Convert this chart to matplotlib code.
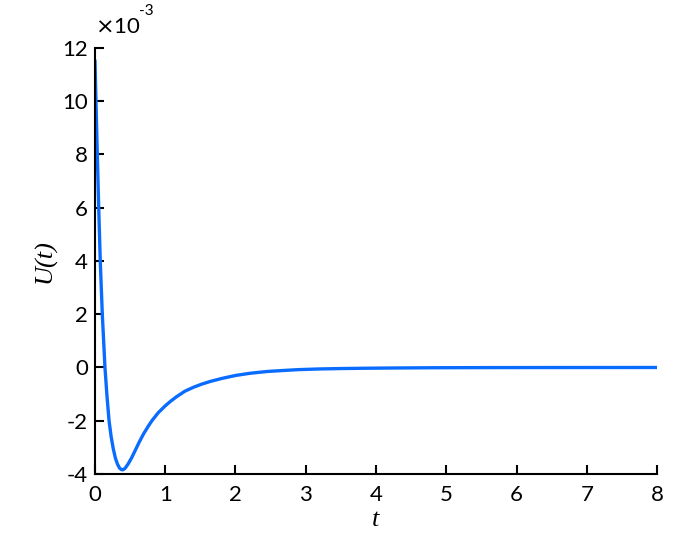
import matplotlib
matplotlib.use('Agg')
import matplotlib.pyplot as plt

# values (U in units of 1e-3)
t = [0, 0.014, 0.033, 0.053, 0.075, 0.104, 0.142, 0.17, 0.20, 0.23, 0.26, 0.29,
     0.32, 0.35, 0.38, 0.40, 0.43, 0.47, 0.52, 0.57, 0.63, 0.69, 0.75, 0.81,
     0.90, 1.0, 1.08, 1.16, 1.28, 1.40, 1.52, 1.64, 1.8, 2.0, 2.2, 2.45, 2.7,
     2.9, 3.2, 3.5, 3.8, 4.2, 4.8, 5.5, 6.5, 8.0]
U = [11.5, 10.0, 8.0, 6.0, 4.0, 2.0, 0.0, -1.05, -2.0, -2.6, -3.05, -3.4,
     -3.63, -3.78, -3.84, -3.84, -3.78, -3.63, -3.4, -3.13, -2.8, -2.5, -2.24,
     -2.0, -1.7, -1.44, -1.26, -1.1, -0.89, -0.745, -0.625, -0.525, -0.415,
     -0.30, -0.22, -0.15, -0.11, -0.08, -0.055, -0.04, -0.03, -0.02, -0.01,
     -0.005, -0.002, 0.0]
xticks = [0, 1, 2, 3, 4, 5, 6, 7, 8]
yticks = [-4, -2, 0, 2, 4, 6, 8, 10, 12]

plt.rcParams['font.family'] = ['Lato', 'DejaVu Sans']
plt.rcParams['axes.unicode_minus'] = False

fig = plt.figure(figsize=(7, 5.45), dpi=100)
ax = fig.add_axes([0.1357, 0.1303, 0.8029, 0.7817])

ax.plot(t, U, color='#0a6cff', lw=2.4, solid_joinstyle='round')

ax.set_xlim(0, 8)
ax.set_ylim(-4, 12)
ax.set_xticks(xticks)
ax.set_yticks(yticks)
ax.tick_params(direction='in', length=6.5, width=1.5, labelsize=16)
ax.tick_params(axis='x', pad=8)
ax.tick_params(axis='y', pad=5)
for s in ['top', 'right']:
    ax.spines[s].set_visible(False)
for s in ['left', 'bottom']:
    ax.spines[s].set_linewidth(1.5)

ax.set_xlabel('t', family='Liberation Serif', style='italic', fontsize=19, labelpad=3)
ax.set_ylabel('U(t)', family='Liberation Serif', style='italic', fontsize=19, labelpad=4)

# exponent label
ax.text(0.0, 1.025, r'$\times$10', transform=ax.transAxes, fontsize=16, ha='left', va='bottom')
ax.text(0.078, 1.07, '-3', transform=ax.transAxes, fontsize=11, ha='left', va='bottom')

fig.savefig('out.png', dpi=100)
